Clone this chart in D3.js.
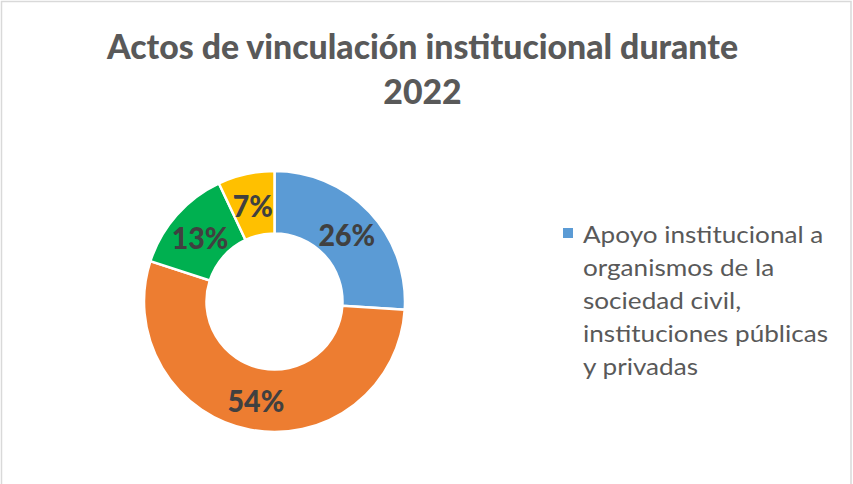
<!DOCTYPE html>
<html>
<head>
<meta charset="utf-8">
<script src="https://cdn.jsdelivr.net/npm/d3@7"></script>
<style>
    body { margin: 0; background: #ffffff; }
    svg { display: block; }
</style>
</head>
<body>
<svg id="chart"></svg>
<script>
// chart data
const titleLines = ["Actos de vinculación institucional durante", "2022"];
const sliceValues = [26, 54, 13, 7];
const sliceColors = ["#5B9BD5", "#ED7D31", "#00B050", "#FFC000"];
const legendLines = ["Apoyo institucional a", "organismos de la", "sociedad civil,", "instituciones públicas", "y privadas"];

const width = 853, height = 484;
const center = { x: 274.5, y: 301.5 };
const outerR = 130.5, innerR = 68;

const svg = d3.select("#chart")
    .attr("width", width)
    .attr("height", height);

// chart area border (bottom edge falls outside the picture)
svg.append("rect")
    .attr("x", 1.5)
    .attr("y", 1.5)
    .attr("width", 849.5)
    .attr("height", height + 10)
    .attr("fill", "#ffffff")
    .attr("stroke", "#d9d9d9")
    .attr("stroke-width", 1.5);

// fit a text element horizontally to a target width
function fitWidth(sel, target) {
    const w = sel.node().getComputedTextLength();
    sel.attr("textLength", target).attr("lengthAdjust", "spacingAndGlyphs");
    return target / w;
}

// title
const title = svg.append("g").attr("class", "title");
const t1 = title.append("text")
    .attr("x", 422.5)
    .attr("y", 59)
    .attr("text-anchor", "middle")
    .style("font-family", "Lato, 'Open Sans', sans-serif")
    .style("font-weight", "900")
    .style("font-size", "34px")
    .style("fill", "#595959")
    .text(titleLines[0]);
const titleScale = fitWidth(t1, 631);
const t2 = title.append("text")
    .attr("x", 422.5)
    .attr("y", 104)
    .attr("text-anchor", "middle")
    .style("font-family", "Lato, 'Open Sans', sans-serif")
    .style("font-weight", "900")
    .style("font-size", "34px")
    .style("fill", "#595959")
    .text(titleLines[1]);
t2.attr("textLength", t2.node().getComputedTextLength() * titleScale)
    .attr("lengthAdjust", "spacingAndGlyphs");

// donut
const pie = d3.pie().sort(null).value(d => d);
const arc = d3.arc().innerRadius(innerR).outerRadius(outerR);
const labelArc = d3.arc().innerRadius((innerR + outerR) / 2).outerRadius((innerR + outerR) / 2);
const arcs = pie(sliceValues);
const total = d3.sum(sliceValues);

const donut = svg.append("g")
    .attr("transform", `translate(${center.x},${center.y})`);

donut.selectAll("path")
    .data(arcs)
    .join("path")
    .attr("d", arc)
    .attr("fill", (d, i) => sliceColors[i])
    .attr("stroke", "#ffffff")
    .attr("stroke-width", 2.5)
    .attr("stroke-linejoin", "miter");

donut.selectAll("text")
    .data(arcs)
    .join("text")
    .attr("x", d => labelArc.centroid(d)[0])
    .attr("y", d => labelArc.centroid(d)[1] + 2)
    .attr("dy", "0.36em")
    .attr("text-anchor", "middle")
    .style("font-family", "Lato, 'Open Sans', sans-serif")
    .style("font-weight", "900")
    .style("font-size", "30px")
    .style("fill", "#404040")
    .text(d => Math.round(d.data / total * 100) + "%")
    .each(function () {
        const s = d3.select(this);
        s.attr("textLength", s.node().getComputedTextLength() * 0.95)
            .attr("lengthAdjust", "spacingAndGlyphs");
    });

// legend (only the first entry fits)
const legend = svg.append("g").attr("class", "legend");
legend.append("rect")
    .attr("x", 563)
    .attr("y", 228)
    .attr("width", 10)
    .attr("height", 10)
    .attr("fill", sliceColors[0]);

const lt = legend.selectAll("text")
    .data(legendLines)
    .join("text")
    .attr("x", 583)
    .attr("y", (d, i) => 243 + i * 33)
    .style("font-family", "Lato, 'Open Sans', sans-serif")
    .style("font-size", "22.5px")
    .style("fill", "#595959")
    .text(d => d);

const refLine = lt.filter((d, i) => i === 3);
const legendScale = 245 / refLine.node().getComputedTextLength();
lt.each(function () {
    const s = d3.select(this);
    s.attr("textLength", s.node().getComputedTextLength() * legendScale)
        .attr("lengthAdjust", "spacingAndGlyphs");
});
</script>
</body>
</html>
